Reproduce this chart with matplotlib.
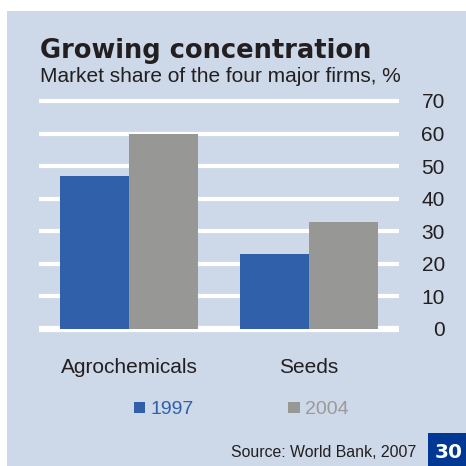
import matplotlib
matplotlib.use('Agg')
import matplotlib.pyplot as plt
from matplotlib.patches import Rectangle
import numpy as np

# data
categories = ['Agrochemicals', 'Seeds']
years = ['1997', '2004']
share_1997 = [47, 23]
share_2004 = [60, 33]
y_ticks = [0, 10, 20, 30, 40, 50, 60, 70]

PANEL = '#cdd8e9'
BLUE = '#3060a9'
GREY = '#979795'
BOX = '#003893'
TEXT = '#231f20'
W = H = 466.0

def fx(px):
    return px / W

def fy(px):
    return 1 - px / H

plt.rcParams['font.family'] = ['Liberation Sans', 'DejaVu Sans']

fig = plt.figure(figsize=(4.66, 4.66), dpi=100, facecolor='white')
fig.patches.append(Rectangle((fx(7), 0), 1 - fx(7), fy(11), transform=fig.transFigure,
                             facecolor=PANEL, edgecolor='none', zorder=-5))

ax = fig.add_axes([fx(39), fy(329), fx(399) - fx(39), fy(101) - fy(329)])
ax.set_facecolor('none')
for s in ax.spines.values():
    s.set_visible(False)

x = np.arange(len(categories))
bw = 69 / 180.0
b1 = ax.bar(x - bw / 2, share_1997, bw, color=BLUE, zorder=3, label=years[0])
b2 = ax.bar(x + bw / 2, share_2004, bw, color=GREY, zorder=3, label=years[1])

ax.set_xlim(-0.5, 1.5)
ax.set_ylim(0, 70)

# white gridlines, heavier baseline
for t in y_ticks:
    ax.axhline(t, color='white', lw=4.5 if t == 0 else 3, zorder=1, clip_on=False,
               solid_capstyle='butt')

ax.yaxis.tick_right()
ax.set_yticks(y_ticks)
ax.set_yticklabels([str(t) for t in y_ticks], fontsize=15, color=TEXT, ha='right')
ax.tick_params(axis='y', length=0, pad=33)
ax.set_xticks(x)
ax.set_xticklabels(categories, fontsize=15, color=TEXT)
ax.tick_params(axis='x', length=0, pad=21)

leg = fig.legend(handles=[b1, b2], loc='center left', bbox_to_anchor=(fx(134), fy(410)),
                 ncol=2, frameon=False, fontsize=14, borderpad=0, borderaxespad=0,
                 handlelength=0.57, handleheight=0.52, handletextpad=0.3,
                 columnspacing=4.85)
for txt, c in zip(leg.get_texts(), [BLUE, '#9a9a98']):
    txt.set_color(c)

fig.text(fx(40), fy(58), 'Growing concentration', fontsize=18.5, fontweight='heavy',
         family='DejaVu Sans', color=TEXT, ha='left', va='baseline')
fig.text(fx(40), fy(82), 'Market share of the four major firms, %', fontsize=15,
         color=TEXT, ha='left', va='baseline')
fig.text(fx(416), fy(457), 'Source: World Bank, 2007', fontsize=11.4, color=TEXT,
         ha='right', va='baseline')

fig.patches.append(Rectangle((fx(428), 0), 1 - fx(428), fy(433), transform=fig.transFigure,
                             facecolor=BOX, edgecolor='none', zorder=1))
fig.text(fx(449), fy(453), '30', fontsize=14.5, fontweight='bold', family='DejaVu Sans',
         color='white', ha='center', va='center')

fig.savefig('out.png', dpi=100, facecolor='white')
